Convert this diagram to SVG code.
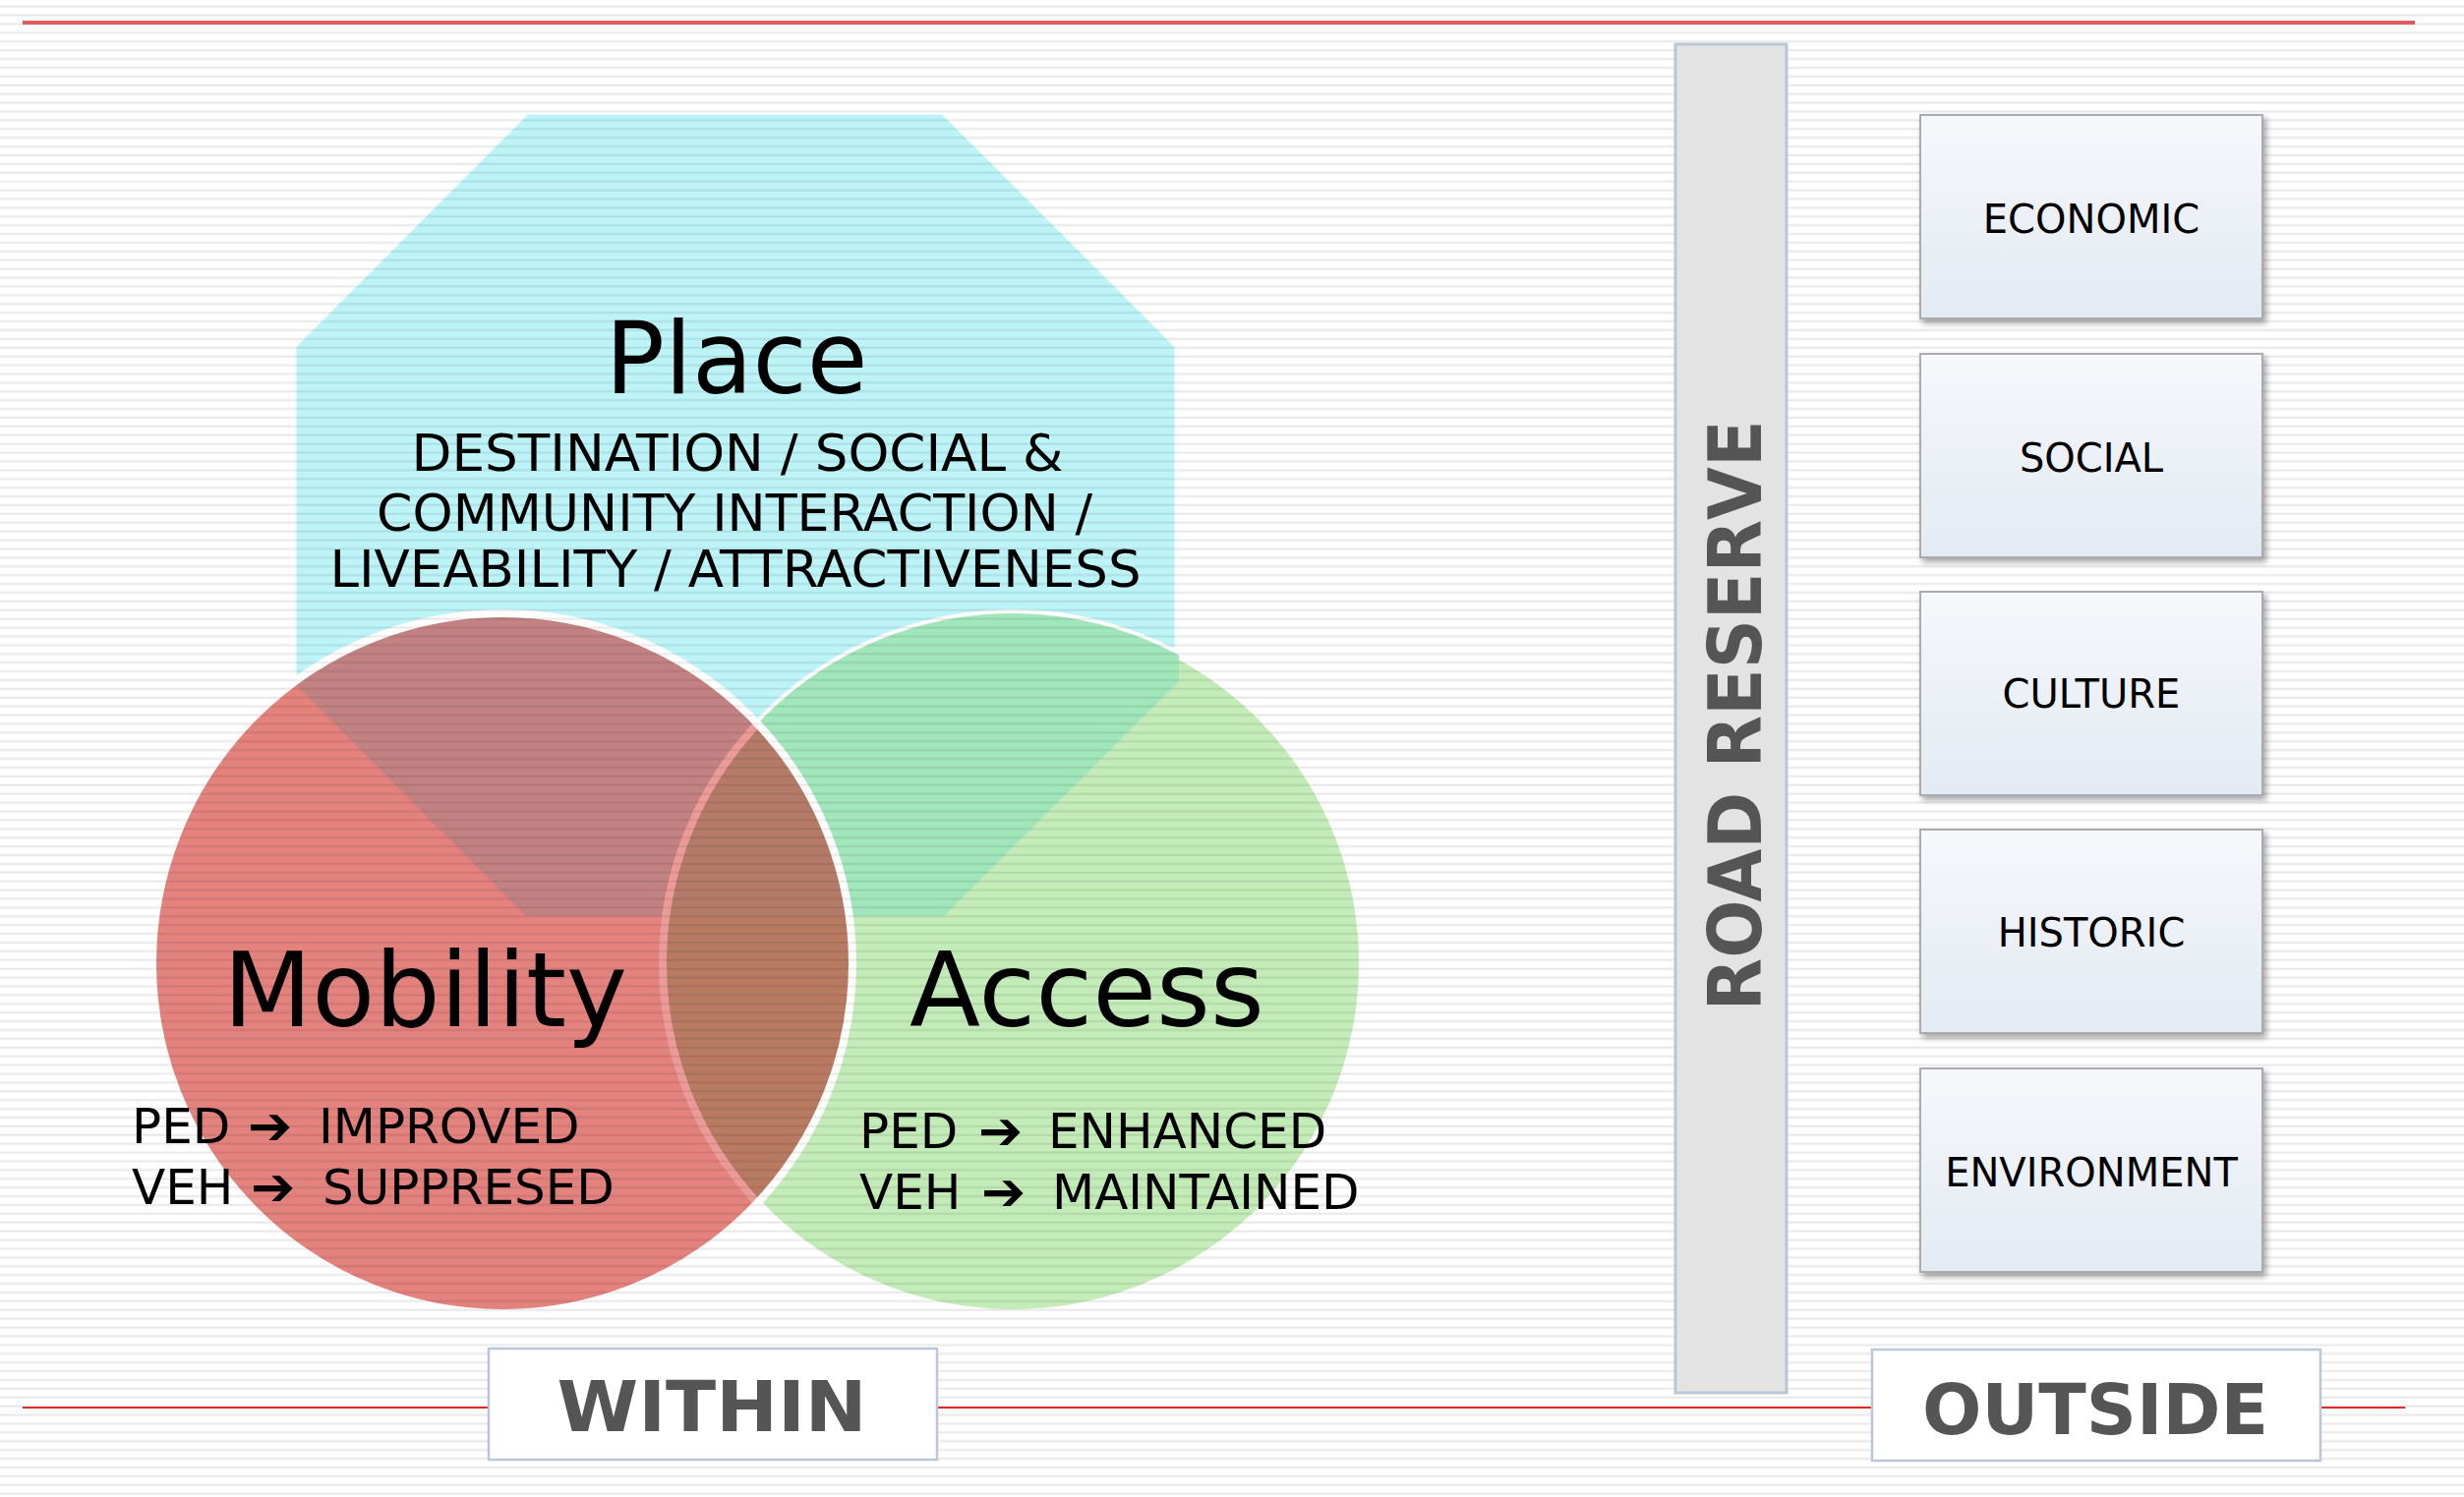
<svg xmlns="http://www.w3.org/2000/svg" width="2506" height="1523" viewBox="0 0 2506 1523">
<defs>
<style>
.v{font-family:"DejaVu Sans","Liberation Sans",sans-serif;fill:#000}
.b{font-family:"DejaVu Sans","Liberation Sans",sans-serif;font-weight:bold;fill:#555}
.ar{font-family:"DejaVu Sans","Liberation Sans",sans-serif;font-weight:bold;font-size:54px}
.lbl{font-family:"DejaVu Sans","Liberation Sans",sans-serif;font-size:40px;fill:#000;text-anchor:middle}
.box{fill:url(#gb);stroke:#a9abae;stroke-width:2;filter:url(#sh)}
.tag{fill:#fff;stroke:#b9c7d6;stroke-width:2.5}
</style>
<pattern id="st" patternUnits="userSpaceOnUse" x="0" y="0" width="20" height="8.9">
<rect x="0" y="5.6" width="20" height="2" fill="#000" fill-opacity="0.09"/>
</pattern>
<linearGradient id="gb" x1="0" y1="0" x2="0" y2="1">
<stop offset="0" stop-color="#f6f8fb"/>
<stop offset="1" stop-color="#e3eaf3"/>
</linearGradient>
<filter id="sh" x="-10%" y="-10%" width="125%" height="125%">
<feDropShadow dx="3" dy="4" stdDeviation="3" flood-color="#000" flood-opacity="0.35"/>
</filter>
<polygon id="oct" points="535,112 960,112 1199,351 1199,693 960,932 535,932 297,693 297,351"/>
<circle id="cirR" cx="511" cy="980" r="356"/>
<circle id="cirG" cx="1030" cy="980" r="356"/>
<clipPath id="cO"><use href="#oct"/></clipPath>
<clipPath id="cR"><use href="#cirR"/></clipPath>
<clipPath id="cG"><use href="#cirG"/></clipPath>
</defs>
<rect width="2506" height="1523" fill="#fff"/>

<g id="venn">
<use href="#oct" fill="#bdf4f8" stroke="#fff" stroke-width="9"/>
<use href="#cirG" fill="#c4ecb8" stroke="#fff" stroke-width="8"/>
<g clip-path="url(#cG)"><use href="#oct" fill="#a2e6bb"/></g>
<use href="#cirR" fill="#e4827e"/>
<g clip-path="url(#cR)">
<use href="#oct" fill="#c38282"/>
<use href="#cirG" fill="#b87b62"/>
<g clip-path="url(#cO)"><use href="#cirG" fill="#b57b68"/></g>
<use href="#cirG" fill="none" stroke="#ec9c98" stroke-width="8"/>
</g>
<use href="#cirR" fill="none" stroke="#fff" stroke-width="8"/>
</g>

<rect id="stripes" width="2506" height="1523" fill="url(#st)"/>

<g id="connectors">
<line x1="23" y1="23" x2="2456" y2="23" stroke="#e05c5c" stroke-width="4"/>
<line x1="23" y1="1432" x2="2446" y2="1432" stroke="#e02626" stroke-width="2"/>
</g>

<g id="road-reserve">
<rect x="1704" y="45" width="113" height="1372" fill="#e3e3e3" stroke="#bac7d4" stroke-width="3"/>
<text class="b" font-size="74" text-anchor="middle" transform="translate(1791,728) rotate(-90)" textLength="601" lengthAdjust="spacingAndGlyphs">ROAD RESERVE</text>
</g>

<g id="place">
<text class="v" x="749" y="400" font-size="102" text-anchor="middle" textLength="267" lengthAdjust="spacingAndGlyphs">Place</text>
<text class="v" x="750" y="479" font-size="52" text-anchor="middle" textLength="663" lengthAdjust="spacingAndGlyphs">DESTINATION / SOCIAL &amp;</text>
<text class="v" x="747" y="540" font-size="52" text-anchor="middle" textLength="728" lengthAdjust="spacingAndGlyphs">COMMUNITY INTERACTION /</text>
<text class="v" x="748" y="597" font-size="52" text-anchor="middle" textLength="825" lengthAdjust="spacingAndGlyphs">LIVEABILITY / ATTRACTIVENESS</text>
</g>

<g id="mobility">
<text class="v" x="227" y="1044" font-size="105" textLength="411" lengthAdjust="spacingAndGlyphs">Mobility</text>
<text class="v" y="1163" font-size="50"><tspan x="134">PED</tspan><tspan class="ar" x="252" dy="1">➔</tspan><tspan x="324" dy="-1">IMPROVED</tspan></text>
<text class="v" y="1225" font-size="50"><tspan x="134">VEH</tspan><tspan class="ar" x="255" dy="1">➔</tspan><tspan x="328" dy="-1">SUPPRESED</tspan></text>
</g>

<g id="access">
<text class="v" x="925" y="1044" font-size="105" textLength="361" lengthAdjust="spacingAndGlyphs">Access</text>
<text class="v" y="1168" font-size="50"><tspan x="874">PED</tspan><tspan class="ar" x="995" dy="1">➔</tspan><tspan x="1066" dy="-1">ENHANCED</tspan></text>
<text class="v" y="1230" font-size="50"><tspan x="874">VEH</tspan><tspan class="ar" x="998" dy="1">➔</tspan><tspan x="1070" dy="-1">MAINTAINED</tspan></text>
</g>

<g id="within">
<rect class="tag" x="497" y="1372" width="456" height="113"/>
<text class="b" x="724" y="1456" font-size="72" text-anchor="middle" textLength="315" lengthAdjust="spacingAndGlyphs">WITHIN</text>
</g>

<g id="outside">
<rect class="tag" x="1904" y="1373" width="456" height="113"/>
<text class="b" x="2131" y="1459" font-size="72" text-anchor="middle" textLength="352" lengthAdjust="spacingAndGlyphs">OUTSIDE</text>
</g>

<g id="economic"><rect class="box" x="1953" y="117" width="348" height="207"/><text class="lbl" x="2127" y="237">ECONOMIC</text></g>
<g id="social"><rect class="box" x="1953" y="360" width="348" height="207"/><text class="lbl" x="2127" y="480">SOCIAL</text></g>
<g id="culture"><rect class="box" x="1953" y="602" width="348" height="207"/><text class="lbl" x="2127" y="720">CULTURE</text></g>
<g id="historic"><rect class="box" x="1953" y="844" width="348" height="207"/><text class="lbl" x="2127" y="963">HISTORIC</text></g>
<g id="environment"><rect class="box" x="1953" y="1087" width="348" height="207"/><text class="lbl" x="2127" y="1207">ENVIRONMENT</text></g>
</svg>
